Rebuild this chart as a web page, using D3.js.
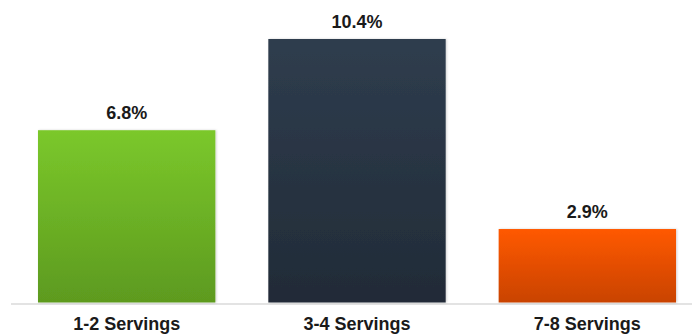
<!DOCTYPE html>
<html>
<head>
<meta charset="utf-8">
<script src="https://cdn.jsdelivr.net/npm/d3@7"></script>
<style>
  html, body { margin: 0; padding: 0; background: #fff; }
  svg { display: block; }
</style>
</head>
<body>
<svg id="chart" width="692" height="334"></svg>
<script>
const categories = ["1-2 Servings", "3-4 Servings", "7-8 Servings"];
const values = [6.8, 10.4, 2.9];
const valueLabels = ["6.8%", "10.4%", "2.9%"];
const gradTop = ["#7bc82b", "#2f3d4e", "#ff5900"];
const gradBottom = ["#5d9a1f", "#212b37", "#c94300"];

const svg = d3.select("#chart");
const baseY = 302.5;

const x = d3.scaleBand()
  .domain(categories)
  .range([11.5, 702.5])
  .paddingInner(0.23)
  .paddingOuter(0.115);

const y = d3.scaleLinear()
  .domain([0, 10.4])
  .range([baseY, 39]);

const defs = svg.append("defs");
categories.forEach((c, i) => {
  const g = defs.append("linearGradient")
    .attr("id", "grad" + i)
    .attr("x1", 0).attr("y1", 0).attr("x2", 0).attr("y2", 1);
  g.append("stop").attr("offset", "0%").attr("stop-color", gradTop[i]);
  g.append("stop").attr("offset", "100%").attr("stop-color", gradBottom[i]);
});
const f = defs.append("filter").attr("id", "shadow")
  .attr("x", "-5%").attr("y", "-5%").attr("width", "110%").attr("height", "110%");
f.append("feDropShadow").attr("dx", 1).attr("dy", 0).attr("stdDeviation", 1.2)
  .attr("flood-color", "#000").attr("flood-opacity", 0.18);

// baseline
svg.append("line")
  .attr("x1", 11).attr("x2", 692)
  .attr("y1", baseY + 1.5).attr("y2", baseY + 1.5)
  .attr("stroke", "#e3e3e3").attr("stroke-width", 2);

svg.selectAll("rect.bar")
  .data(values)
  .join("rect")
  .attr("class", "bar")
  .attr("x", (d, i) => x(categories[i]))
  .attr("y", d => y(d))
  .attr("width", x.bandwidth())
  .attr("height", d => baseY - y(d))
  .attr("fill", (d, i) => `url(#grad${i})`)
  .attr("filter", "url(#shadow)");

svg.selectAll("text.val")
  .data(values)
  .join("text")
  .attr("class", "val")
  .attr("x", (d, i) => x(categories[i]) + x.bandwidth() / 2)
  .attr("y", d => y(d) - 11)
  .attr("text-anchor", "middle")
  .attr("font-family", "Liberation Sans, Arial, sans-serif")
  .attr("font-weight", "bold")
  .attr("font-size", 18)
  .attr("fill", "#1a1a1a")
  .text((d, i) => valueLabels[i]);

svg.selectAll("text.cat")
  .data(categories)
  .join("text")
  .attr("class", "cat")
  .attr("x", d => x(d) + x.bandwidth() / 2)
  .attr("y", 329.5)
  .attr("text-anchor", "middle")
  .attr("font-family", "Liberation Sans, Arial, sans-serif")
  .attr("font-weight", "bold")
  .attr("font-size", 18)
  .attr("fill", "#1a1a1a")
  .text(d => d);
</script>
</body>
</html>
